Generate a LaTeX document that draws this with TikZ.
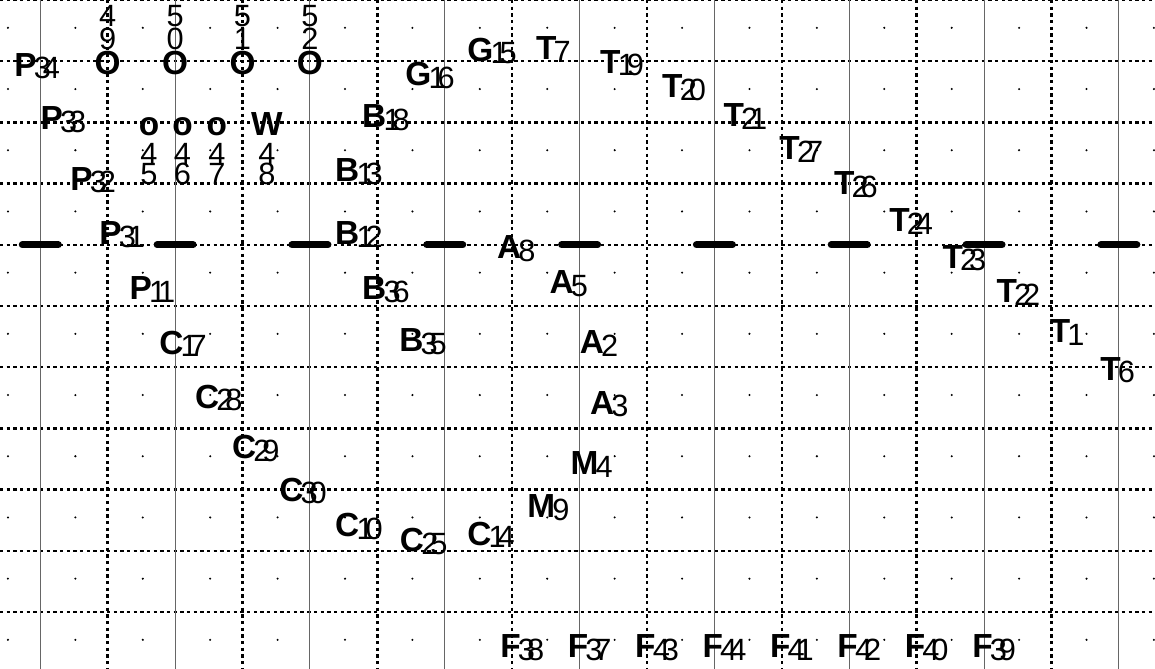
\documentclass[tikz,border=0pt]{standalone}
\usepackage{fontspec}
\setmainfont{Liberation Sans}
\newcommand\letfont{\fontsize{19pt}{20pt}\selectfont\bfseries}
\newcommand\digfont{\fontsize{17.5pt}{18pt}\selectfont}
\def\lbldigits#1{\ifx#1\relax\else#1\kern-4.6pt\expandafter\lbldigits\fi}
\newcommand\lab[2]{{\letfont#1}\kern-1.6pt\raisebox{-1.5pt}{\digfont\expandafter\lbldigits#2\relax}}
\tikzset{
  gridsolid/.style={draw=black!60,line width=0.6pt},
  griddot/.style={draw=black,line width=1.4pt,dash pattern=on 1.9pt off 1.9pt},
  celldot/.style={fill=black},
  sepbar/.style={line width=4pt,line cap=round},
  lbl/.style={anchor=base west,inner sep=0pt},
  stackletter/.style={anchor=base,inner sep=0pt,font=\letfont},
  stackdigit/.style={anchor=base,inner sep=0pt,font=\digfont}
}
\begin{document}
\begin{tikzpicture}[x=1.3482cm,y=-1.224cm]
  \useasboundingbox (-0.598,0) rectangle (16.536,10.931);

  \foreach \j in {0,...,10} \draw[griddot] (-0.598,\j) -- (16.536,\j);
  \foreach \i in {1,3,...,15} \draw[griddot] (\i,0) -- (\i,10.931);
  \foreach \i in {0,2,...,16} \draw[gridsolid] (\i,0) -- (\i,10.931);
  \foreach \i in {-1,...,16} {
    \foreach \j in {0,...,10} {
      \fill[celldot] (\i+0.52,\j+0.455) circle (0.65pt);
    }
  }
  \foreach \i in {0,2,...,16} \draw[sepbar] (\i-0.267,4) -- (\i+0.267,4);

  \foreach \x/\a/\b in {1/4/9,2/5/0,3/5/1,4/5/2} {
    \node[stackletter] (O\a\b) at (\x,1.21) {O};
    \node[stackdigit] (O\a\b-top) at (\x,0.441) {\a};
    \node[stackdigit] (O\a\b-bot) at (\x,0.817) {\b};
  }
  \foreach \x/\l/\b in {1.612/o/5,2.11/o/6,2.62/o/7,3.36/W/8} {
    \node[stackletter] (\l4\b) at (\x,2.222) {\l};
    \node[stackdigit] (\l4\b-top) at (\x,2.696) {4};
    \node[stackdigit] (\l4\b-bot) at (\x,3.01) {\b};
  }

  \foreach \l/\d/\x/\y in {P/34/-0.39/1.242, P/33/0.0/2.124, P/32/0.44/3.105, P/31/0.87/4.003, P/11/1.32/4.902,
      C/17/1.76/5.79, C/28/2.29/6.67, C/29/2.84/7.49, C/30/3.54/8.19, C/10/4.37/8.765, C/25/5.33/9.01, C/14/6.33/8.91,
      M/9/7.22/8.464, M/4/7.86/7.76, A/3/8.15/6.765, A/2/8.0/5.784, A/5/7.55/4.8, A/8/6.77/4.23,
      B/35/5.32/5.75, B/36/4.77/4.9, B/12/4.37/4.003, B/13/4.37/2.97, B/18/4.77/2.09,
      G/16/5.41/1.395, G/15/6.33/1.0,
      T/7/7.35/0.98, T/19/8.3/1.193, T/20/9.22/1.6, T/21/10.13/2.075, T/27/10.96/2.614, T/26/11.77/3.186,
      T/24/12.59/3.79, T/23/13.38/4.38, T/22/14.18/4.95, T/1/14.97/5.6, T/6/15.72/6.21} {
    \node[lbl] (\l\d) at (\x,\y) {\lab{\l}{\d}};
  }
  \foreach \k/\d in {0/38,1/37,2/43,3/44,4/41,5/42,6/40,7/39} {
    \node[lbl] (F\d) at (6.82+\k,10.75) {\lab{F}{\d}};
  }
\end{tikzpicture}
\end{document}
